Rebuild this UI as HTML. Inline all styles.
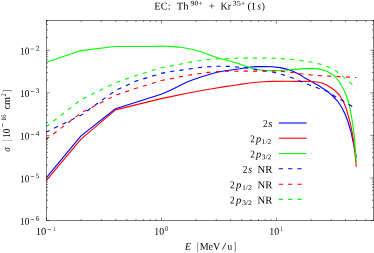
<!DOCTYPE html><html><head><meta charset="utf-8"><style>html,body{margin:0;padding:0;background:#fff;overflow:hidden}svg{display:block}text{font-family:"Liberation Serif",serif;fill:#000;text-rendering:geometricPrecision}</style></head><body>
<svg width="374" height="253" viewBox="0 0 374 253">
<rect width="374" height="253" fill="#fff"/>
<path d="M46.50,220.50v-3.10M46.50,20.50v3.10M81.10,220.50v-1.50M81.10,20.50v1.50M101.34,220.50v-1.50M101.34,20.50v1.50M115.70,220.50v-1.50M115.70,20.50v1.50M126.84,220.50v-1.50M126.84,20.50v1.50M135.94,220.50v-1.50M135.94,20.50v1.50M143.63,220.50v-1.50M143.63,20.50v1.50M150.30,220.50v-1.50M150.30,20.50v1.50M156.18,220.50v-1.50M156.18,20.50v1.50M161.43,220.50v-3.10M161.43,20.50v3.10M196.03,220.50v-1.50M196.03,20.50v1.50M216.27,220.50v-1.50M216.27,20.50v1.50M230.63,220.50v-1.50M230.63,20.50v1.50M241.77,220.50v-1.50M241.77,20.50v1.50M250.87,220.50v-1.50M250.87,20.50v1.50M258.57,220.50v-1.50M258.57,20.50v1.50M265.23,220.50v-1.50M265.23,20.50v1.50M271.11,220.50v-1.50M271.11,20.50v1.50M276.37,220.50v-3.10M276.37,20.50v3.10M310.97,220.50v-1.50M310.97,20.50v1.50M331.21,220.50v-1.50M331.21,20.50v1.50M345.57,220.50v-1.50M345.57,20.50v1.50M356.70,220.50v-1.50M356.70,20.50v1.50M365.81,220.50v-1.50M365.81,20.50v1.50M373.50,220.50v-1.50M373.50,20.50v1.50M46.50,220.50h3.10M373.50,220.50h-3.10M46.50,207.69h1.50M373.50,207.69h-1.50M46.50,200.19h1.50M373.50,200.19h-1.50M46.50,194.87h1.50M373.50,194.87h-1.50M46.50,190.75h1.50M373.50,190.75h-1.50M46.50,187.38h1.50M373.50,187.38h-1.50M46.50,184.53h1.50M373.50,184.53h-1.50M46.50,182.06h1.50M373.50,182.06h-1.50M46.50,179.89h1.50M373.50,179.89h-1.50M46.50,177.94h3.10M373.50,177.94h-3.10M46.50,165.12h1.50M373.50,165.12h-1.50M46.50,157.63h1.50M373.50,157.63h-1.50M46.50,152.31h1.50M373.50,152.31h-1.50M46.50,148.19h1.50M373.50,148.19h-1.50M46.50,144.82h1.50M373.50,144.82h-1.50M46.50,141.97h1.50M373.50,141.97h-1.50M46.50,139.50h1.50M373.50,139.50h-1.50M46.50,137.32h1.50M373.50,137.32h-1.50M46.50,135.37h3.10M373.50,135.37h-3.10M46.50,122.56h1.50M373.50,122.56h-1.50M46.50,115.07h1.50M373.50,115.07h-1.50M46.50,109.75h1.50M373.50,109.75h-1.50M46.50,105.63h1.50M373.50,105.63h-1.50M46.50,102.25h1.50M373.50,102.25h-1.50M46.50,99.41h1.50M373.50,99.41h-1.50M46.50,96.94h1.50M373.50,96.94h-1.50M46.50,94.76h1.50M373.50,94.76h-1.50M46.50,92.81h3.10M373.50,92.81h-3.10M46.50,80.00h1.50M373.50,80.00h-1.50M46.50,72.50h1.50M373.50,72.50h-1.50M46.50,67.19h1.50M373.50,67.19h-1.50M46.50,63.06h1.50M373.50,63.06h-1.50M46.50,59.69h1.50M373.50,59.69h-1.50M46.50,56.84h1.50M373.50,56.84h-1.50M46.50,54.37h1.50M373.50,54.37h-1.50M46.50,52.20h1.50M373.50,52.20h-1.50M46.50,50.25h3.10M373.50,50.25h-3.10M46.50,37.44h1.50M373.50,37.44h-1.50M46.50,29.94h1.50M373.50,29.94h-1.50M46.50,24.62h1.50M373.50,24.62h-1.50M46.50,20.50h1.50M373.50,20.50h-1.50" stroke="#000" stroke-width="0.50" fill="none"/>
<path d="M46.4,177.6 L81.0,135.9 L115.5,108.7 L161.2,94.2 L171.0,90.0 L187.1,82.1 L193.0,79.7 L201.0,77.0 L209.1,74.5 L217.1,72.2 L225.1,70.8 L233.1,69.7 L240.0,68.7 L248.0,67.3 L256.0,66.6 L264.0,66.5 L272.0,66.7 L280.0,67.6 L288.0,69.4 L292.0,70.7 L300.0,74.8 L304.0,77.4 L311.0,81.2 L316.1,84.3 L318.6,85.5 L327.1,91.2 L332.3,95.5 L337.3,100.8 L341.7,107.3 L344.9,113.8 L347.8,121.0 L349.1,125.5 L350.8,131.0 L352.0,136.6 L354.0,146.0 L356.4,157.3" stroke="#0000ff" stroke-width="1.10" fill="none" stroke-linejoin="round"/>
<path d="M46.4,180.3 L81.0,139.2 L115.5,109.9 L161.2,98.6 L171.0,96.6 L187.1,93.3 L203.1,90.3 L215.0,88.3 L225.0,86.6 L234.7,85.2 L240.0,84.4 L248.0,83.2 L256.0,82.3 L264.0,81.7 L272.0,81.4 L288.0,81.3 L295.0,81.4 L304.6,81.3 L310.0,81.5 L314.3,81.8 L318.6,82.3 L322.3,83.0 L327.1,85.3 L334.0,89.7 L339.3,95.0 L343.3,101.3 L345.7,107.3 L348.6,116.7 L350.6,124.5 L352.7,135.0 L354.7,151.0 L356.3,166.6" stroke="#ff0000" stroke-width="1.10" fill="none" stroke-linejoin="round"/>
<path d="M46.4,62.3 L81.0,50.6 L114.8,46.5 L150.0,46.5 L161.2,46.1 L166.0,46.3 L172.6,46.6 L176.0,46.9 L182.2,47.5 L191.8,49.3 L201.0,51.7 L217.1,57.7 L225.0,59.8 L233.1,62.0 L240.0,64.1 L245.0,65.9 L248.0,67.1 L256.0,69.5 L264.0,70.3 L272.0,70.6 L280.0,70.4 L288.0,70.0 L295.0,69.4 L304.0,68.6 L312.5,68.4 L319.5,69.1 L327.1,71.3 L334.0,75.5 L339.0,81.3 L343.5,89.0 L346.0,95.0 L348.5,102.2 L350.2,109.4 L352.0,119.5 L352.8,125.0 L354.4,136.6 L355.4,151.0 L356.3,162.8" stroke="#00ff00" stroke-width="1.10" fill="none" stroke-linejoin="round"/>
<path d="M46.4,131.9 L81.0,115.3 L115.5,90.5 L135.9,81.1 L161.2,73.4 L172.5,71.3 L181.7,70.1 L190.6,68.8 L200.2,67.5 L209.0,66.7 L218.7,66.2 L228.0,66.4 L237.1,67.0 L244.4,67.8 L250.0,68.5 L256.0,69.4 L264.0,70.7 L273.7,72.3 L283.0,74.7 L292.0,77.7 L301.0,81.5 L309.5,85.1 L317.8,88.1 L327.1,91.2 L334.6,96.1 L342.4,100.6 L350.6,105.5 L356.3,109.0" stroke="#0000ff" stroke-width="1.10" fill="none" stroke-linejoin="round" stroke-dasharray="4.2 5.11" stroke-dashoffset="0.7"/>
<path d="M46.4,139.2 L81.0,112.9 L115.5,95.3 L135.9,88.3 L161.2,80.5 L171.7,78.6 L181.0,76.6 L189.6,75.0 L198.6,73.8 L208.3,72.4 L217.1,71.6 L226.7,71.3 L236.0,71.2 L245.0,71.1 L255.2,71.1 L264.0,71.1 L273.7,71.0 L282.4,71.4 L292.0,72.4 L301.1,73.8 L310.7,74.9 L319.5,75.6 L328.7,76.1 L338.3,76.6 L347.9,77.1 L356.3,77.5" stroke="#ff0000" stroke-width="1.10" fill="none" stroke-linejoin="round" stroke-dasharray="4.2 5.11" stroke-dashoffset="0.7"/>
<path d="M46.4,126.6 L81.0,99.6 L115.5,82.8 L135.9,75.5 L161.2,67.8 L172.0,65.7 L181.0,64.0 L189.6,62.3 L199.4,60.7 L209.0,59.5 L217.9,58.9 L227.0,58.6 L236.0,58.2 L245.0,58.1 L256.0,58.1 L272.1,58.2 L281.7,58.6 L291.3,59.4 L300.0,60.3 L310.5,62.0 L319.5,63.9 L328.0,66.8 L336.5,71.3 L343.9,77.3 L350.6,83.2 L356.3,88.5" stroke="#00ff00" stroke-width="1.10" fill="none" stroke-linejoin="round" stroke-dasharray="4.2 5.11" stroke-dashoffset="0.7"/>
<rect x="46.50" y="20.50" width="327.00" height="200.00" fill="none" stroke="#000" stroke-width="0.52"/>
<path d="M278.8,123.0H306.6" stroke="#0000ff" stroke-width="1.10"/>
<path d="M278.8,138.2H306.6" stroke="#ff0000" stroke-width="1.10"/>
<path d="M278.8,153.6H306.6" stroke="#00ff00" stroke-width="1.10"/>
<path d="M278.8,168.8H306.6" stroke="#0000ff" stroke-width="1.10" stroke-dasharray="4.2 5.11"/>
<path d="M278.8,184.2H306.6" stroke="#ff0000" stroke-width="1.10" stroke-dasharray="4.2 5.11"/>
<path d="M278.8,199.4H306.6" stroke="#00ff00" stroke-width="1.10" stroke-dasharray="4.2 5.11"/>
<g opacity="0.999">
<text transform="translate(154.30,9.60) rotate(0.05) scale(1.008,1)" font-size="10.4">EC:</text>
<text transform="translate(176.80,9.60) rotate(0.05) scale(1.012,1)" font-size="10.4">Th</text>
<text transform="translate(190.50,5.50) rotate(0.05) scale(1.109,1)" font-size="7.0">90+</text>
<text transform="translate(208.70,9.60) rotate(0.05) scale(1.050,1)" font-size="10.4">+</text>
<text transform="translate(220.40,9.60) rotate(0.05) scale(0.965,1)" font-size="10.4">Kr</text>
<text transform="translate(232.50,5.50) rotate(0.05) scale(1.182,1)" font-size="7.0">35+</text>
<text transform="translate(247.40,9.60) rotate(0.05) scale(0.993,1)" font-size="10.4">(1</text>
<text transform="translate(257.30,9.60) rotate(0.05) scale(0.925,1)" font-size="10.4" font-style="italic">s</text>
<text transform="translate(261.70,9.60) rotate(0.05) scale(0.900,1)" font-size="10.4">)</text>
<text transform="translate(262.90,126.95) rotate(0.05) scale(0.880,1)" font-size="10.4">2</text>
<text transform="translate(268.20,126.95) rotate(0.05) scale(1.050,1)" font-size="10.4" font-style="italic">s</text>
<text transform="translate(250.20,142.25) rotate(0.05) scale(0.880,1)" font-size="10.4">2</text>
<text transform="translate(256.00,142.25) rotate(0.05) scale(1.000,1)" font-size="10.4" font-style="italic">p</text>
<text transform="translate(261.60,143.85) rotate(0.05) scale(1.101,1)" font-size="7.0">1/2</text>
<text transform="translate(250.20,157.55) rotate(0.05) scale(0.880,1)" font-size="10.4">2</text>
<text transform="translate(256.00,157.55) rotate(0.05) scale(1.000,1)" font-size="10.4" font-style="italic">p</text>
<text transform="translate(261.60,159.15) rotate(0.05) scale(1.101,1)" font-size="7.0">3/2</text>
<text transform="translate(242.80,172.85) rotate(0.05) scale(0.900,1)" font-size="10.4">2</text>
<text transform="translate(248.20,172.85) rotate(0.05) scale(0.950,1)" font-size="10.4" font-style="italic">s</text>
<text transform="translate(257.50,172.85) rotate(0.05) scale(1.027,1)" font-size="10.4">NR</text>
<text transform="translate(230.10,188.15) rotate(0.05) scale(0.900,1)" font-size="10.4">2</text>
<text transform="translate(236.03,188.15) rotate(0.05) scale(1.033,1)" font-size="10.4" font-style="italic">p</text>
<text transform="translate(241.90,189.75) rotate(0.05) scale(1.133,1)" font-size="7.0">1/2</text>
<text transform="translate(257.50,188.15) rotate(0.05) scale(1.027,1)" font-size="10.4">NR</text>
<text transform="translate(230.10,203.45) rotate(0.05) scale(0.900,1)" font-size="10.4">2</text>
<text transform="translate(236.03,203.45) rotate(0.05) scale(1.033,1)" font-size="10.4" font-style="italic">p</text>
<text transform="translate(241.90,205.05) rotate(0.05) scale(1.133,1)" font-size="7.0">3/2</text>
<text transform="translate(257.50,203.45) rotate(0.05) scale(1.027,1)" font-size="10.4">NR</text>
<text transform="translate(20.10,224.70) rotate(0.05) scale(0.902,1)" font-size="10.4">10</text>
<text transform="translate(30.30,221.55) rotate(0.05) scale(1.100,1)" font-size="7.0" font-weight="bold">−</text>
<text transform="translate(35.80,220.80) rotate(0.05) scale(1.025,1)" font-size="7.0">6</text>
<text transform="translate(20.10,182.14) rotate(0.05) scale(0.902,1)" font-size="10.4">10</text>
<text transform="translate(30.30,178.99) rotate(0.05) scale(1.100,1)" font-size="7.0" font-weight="bold">−</text>
<text transform="translate(35.80,178.24) rotate(0.05) scale(1.025,1)" font-size="7.0">5</text>
<text transform="translate(20.10,139.57) rotate(0.05) scale(0.902,1)" font-size="10.4">10</text>
<text transform="translate(30.30,136.42) rotate(0.05) scale(1.100,1)" font-size="7.0" font-weight="bold">−</text>
<text transform="translate(35.80,135.67) rotate(0.05) scale(1.025,1)" font-size="7.0">4</text>
<text transform="translate(20.10,97.01) rotate(0.05) scale(0.902,1)" font-size="10.4">10</text>
<text transform="translate(30.30,93.86) rotate(0.05) scale(1.100,1)" font-size="7.0" font-weight="bold">−</text>
<text transform="translate(35.80,93.11) rotate(0.05) scale(1.025,1)" font-size="7.0">3</text>
<text transform="translate(20.10,54.45) rotate(0.05) scale(0.902,1)" font-size="10.4">10</text>
<text transform="translate(30.30,51.30) rotate(0.05) scale(1.100,1)" font-size="7.0" font-weight="bold">−</text>
<text transform="translate(35.80,50.55) rotate(0.05) scale(1.025,1)" font-size="7.0">2</text>
<text transform="translate(35.80,234.80) rotate(0.05) scale(1.020,1)" font-size="10.4">10</text>
<text transform="translate(47.10,231.65) rotate(0.05) scale(1.100,1)" font-size="7.0" font-weight="bold">−</text>
<text transform="translate(53.00,230.90) rotate(0.05) scale(0.675,1)" font-size="7.0">1</text>
<text transform="translate(154.33,234.80) rotate(0.05) scale(0.951,1)" font-size="10.4">10</text>
<text transform="translate(164.93,230.90) rotate(0.05) scale(0.950,1)" font-size="7.0">0</text>
<text transform="translate(269.27,234.80) rotate(0.05) scale(0.951,1)" font-size="10.4">10</text>
<text transform="translate(280.37,230.90) rotate(0.05) scale(0.725,1)" font-size="7.0">1</text>
<text transform="translate(185.03,249.70) rotate(0.05) scale(0.925,1)" font-size="10.4" font-style="italic">E</text>
<text transform="translate(196.90,249.70) rotate(0.05) scale(0.475,1)" font-size="10.4">[</text>
<text transform="translate(199.70,249.70) rotate(0.05) scale(0.966,1)" font-size="10.4">MeV</text>
<text transform="translate(222.10,249.70) rotate(0.05) scale(1.433,1)" font-size="10.4">/</text>
<text transform="translate(227.40,249.70) rotate(0.05) scale(0.900,1)" font-size="10.4">u</text>
<text transform="translate(233.80,249.70) rotate(0.05) scale(0.633,1)" font-size="10.4">]</text>
<g transform="translate(9.9,152) rotate(-90.05)">
<text transform="translate(0.20,0.00) rotate(0.05) scale(0.883,1)" font-size="10.4" font-style="italic">σ</text>
<text transform="translate(10.70,0.00) rotate(0.05) scale(0.525,1)" font-size="10.4">[</text>
<text transform="translate(14.20,0.00) rotate(0.05) scale(0.873,1)" font-size="10.4">10</text>
<text transform="translate(24.30,-4.50) rotate(0.05) scale(1.225,1)" font-size="7.0" font-weight="bold">−</text>
<text transform="translate(31.20,-4.30) rotate(0.05) scale(0.880,1)" font-size="7.0">16</text>
<text transform="translate(42.40,0.00) rotate(0.05) scale(0.983,1)" font-size="10.4">cm</text>
<text transform="translate(55.50,-4.30) rotate(0.05) scale(0.900,1)" font-size="7.0">2</text>
<text transform="translate(60.00,0.00) rotate(0.05) scale(0.600,1)" font-size="10.4">]</text>
</g>
</g>
</svg></body></html>
